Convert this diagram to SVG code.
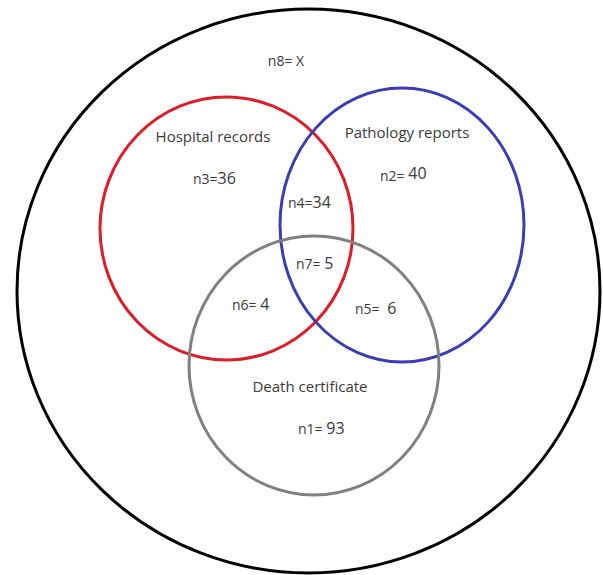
<svg xmlns="http://www.w3.org/2000/svg" width="603" height="575" viewBox="0 0 603 575">
  <style>
    .set { fill: none; stroke-width: 3; }
    .lbl { font-family: "Open Sans", "Liberation Sans", sans-serif; font-size: 14px; fill: #3a3a3a; }
    .title { font-size: 15px; }
    .num { font-size: 16px; }
  </style>
  <rect width="603" height="575" fill="#ffffff"/>

  <!-- universe -->
  <g id="universe">
    <ellipse class="set" cx="308.5" cy="291" rx="291.5" ry="282" stroke="#000000"/>
    <text class="lbl" x="286" y="66" text-anchor="middle">n8= X</text>
  </g>

  <!-- hospital records -->
  <g id="hospital">
    <ellipse class="set" cx="226.5" cy="228.5" rx="126.5" ry="131.5" stroke="#dc1e28"/>
    <text class="lbl title" x="213" y="142" text-anchor="middle">Hospital records</text>
    <text class="lbl" x="193" y="184">n3=<tspan class="num">36</tspan></text>
  </g>

  <!-- pathology reports -->
  <g id="pathology">
    <ellipse class="set" cx="402" cy="225" rx="122" ry="137" stroke="#3c3cb4"/>
    <text class="lbl title" x="407" y="138" text-anchor="middle">Pathology reports</text>
    <text class="lbl" x="380" y="181">n2= <tspan class="num" dy="-2">40</tspan></text>
  </g>

  <!-- death certificate -->
  <g id="death">
    <ellipse class="set" cx="314" cy="365.5" rx="125" ry="129.5" stroke="#808080"/>
    <text class="lbl title" x="310" y="392" text-anchor="middle">Death certificate</text>
    <text class="lbl" x="298" y="434">n1= <tspan class="num">93</tspan></text>
  </g>

  <!-- overlap counts -->
  <g id="overlaps">
    <text class="lbl" x="288" y="208">n4=<tspan class="num">34</tspan></text>
    <text class="lbl" x="296" y="269">n7= <tspan class="num">5</tspan></text>
    <text class="lbl" x="232" y="310">n6= <tspan class="num">4</tspan></text>
    <text class="lbl" x="355" y="314">n5= <tspan class="num" dx="4">6</tspan></text>
  </g>
</svg>
